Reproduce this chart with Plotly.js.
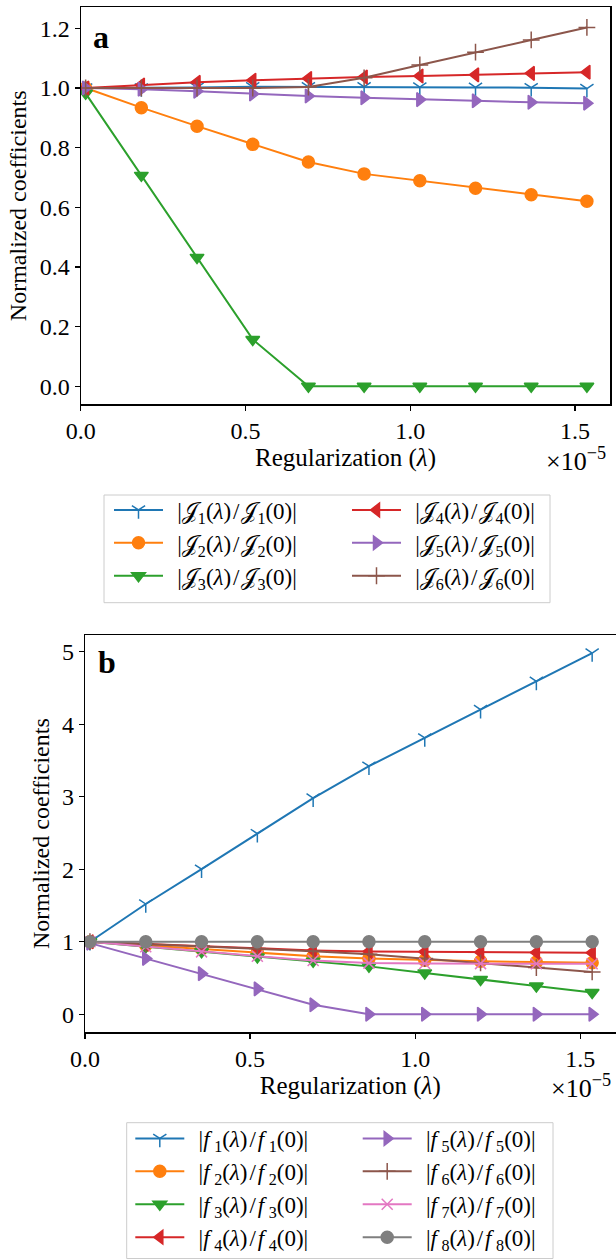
<!DOCTYPE html>
<html>
<head>
<meta charset="utf-8">
<script src="https://cdn.plot.ly/plotly-3.0.1.min.js"></script>
<style>
  html, body { margin: 0; padding: 0; background: #fff; }
  #chart { width: 616px; height: 1260px; }
</style>
</head>
<body>
<div id="chart"></div>
<script>
// Regularization values lambda, in units of 1e-5
const lambdaScaled = [0.015, 0.184, 0.353, 0.522, 0.691, 0.860, 1.029, 1.198, 1.367, 1.536];

// Panel a: |J_k(lambda)/J_k(0)|
const J1 = [1.000, 1.000, 1.002, 1.004, 1.004, 1.004, 1.003, 1.002, 1.001, 0.998];
const J2 = [1.000, 0.934, 0.872, 0.811, 0.752, 0.712, 0.689, 0.664, 0.642, 0.620];
const J3 = [0.982, 0.707, 0.432, 0.157, 0.000, 0.000, 0.000, 0.000, 0.000, 0.000];
const J4 = [1.000, 1.010, 1.019, 1.026, 1.032, 1.037, 1.040, 1.044, 1.049, 1.053];
const J5 = [1.000, 0.996, 0.989, 0.980, 0.973, 0.967, 0.961, 0.957, 0.952, 0.949];
const J6 = [1.000, 1.000, 1.000, 1.000, 1.003, 1.034, 1.077, 1.120, 1.161, 1.203];

// Panel b: |f_k(lambda)/f_k(0)|
const f1 = [1.000, 1.520, 2.000, 2.490, 2.980, 3.420, 3.810, 4.200, 4.590, 4.980];
const f2 = [1.000, 0.950, 0.900, 0.850, 0.800, 0.770, 0.745, 0.730, 0.720, 0.710];
const f3 = [1.000, 0.930, 0.860, 0.790, 0.730, 0.660, 0.570, 0.480, 0.390, 0.300];
const f4 = [1.000, 0.970, 0.940, 0.910, 0.880, 0.865, 0.860, 0.855, 0.850, 0.848];
const f5 = [0.980, 0.770, 0.560, 0.350, 0.130, 0.000, 0.000, 0.000, 0.000, 0.000];
const f6 = [1.000, 0.970, 0.940, 0.905, 0.870, 0.826, 0.767, 0.707, 0.643, 0.583];
const f7 = [1.000, 0.930, 0.860, 0.800, 0.740, 0.705, 0.700, 0.698, 0.695, 0.695];
const f8 = [1.000, 1.000, 1.000, 1.000, 1.000, 1.000, 1.000, 1.000, 1.000, 1.000];

// Tick labels
const xTickVals = [0, 0.5, 1.0, 1.5];
const xTickText = ["0.0", "0.5", "1.0", "1.5"];
const yaTickVals = [0, 0.2, 0.4, 0.6, 0.8, 1.0, 1.2];
const yaTickText = ["0.0", "0.2", "0.4", "0.6", "0.8", "1.0", "1.2"];
const ybTickVals = [0, 1, 2, 3, 4, 5];
const ybTickText = ["0", "1", "2", "3", "4", "5"];

const seriesA = [J1, J2, J3, J4, J5, J6];
const seriesB = [f1, f2, f3, f4, f5, f6, f7, f8];
const TS = "\u2009", HS = "\u200a";
const namesA = [1,2,3,4,5,6].map(k => `${TS}${TS}|𝒥<sub>${k}</sub>(<i>λ</i>)${HS}/${HS}𝒥<sub>${k}</sub>(0)|`);
const namesB = [1,2,3,4,5,6,7,8].map(k => `${TS}${TS}|<i>f</i>${TS}<sub>${k}</sub>(<i>λ</i>)${HS}/${HS}<i>f</i>${TS}<sub>${k}</sub>(0)|`);

const colors = ["#1f77b4", "#ff7f0e", "#2ca02c", "#d62728", "#9467bd", "#8c564b", "#e377c2", "#7f7f7f"];
const symbols = ["y-down", "circle", "triangle-down", "triangle-left", "triangle-right", "cross-thin", "x-thin", "circle"];
const sizes = [11, 12, 12, 12, 12, 12, 11, 12];

// legend columns (matplotlib ncol=2 fills column-wise)
const legendA = ["legend", "legend", "legend", "legend2", "legend2", "legend2"];
const legendB = ["legend3", "legend3", "legend3", "legend3", "legend4", "legend4", "legend4", "legend4"];

const traces = [];
seriesA.forEach((ys, i) => {
  traces.push({
    type: "scatter", mode: "lines+markers",
    x: lambdaScaled, y: ys, xaxis: "x", yaxis: "y",
    name: namesA[i], legend: legendA[i],
    line: { color: colors[i], width: 2 },
    marker: { symbol: symbols[i], size: sizes[i], color: colors[i], line: { color: colors[i], width: 1.5 } }
  });
});
seriesB.forEach((ys, i) => {
  traces.push({
    type: "scatter", mode: "lines+markers",
    x: lambdaScaled, y: ys, xaxis: "x2", yaxis: "y2",
    name: namesB[i], legend: legendB[i],
    line: { color: colors[i], width: 2 },
    marker: { symbol: symbols[i], size: sizes[i], color: colors[i], line: { color: colors[i], width: 1.5 } }
  });
});

const FONT = "'Liberation Serif', 'Times New Roman', serif";
const W = 616, H = 1260;
const px = v => v / W;
const py = v => 1 - v / H;

const axisCommon = {
  showgrid: false, zeroline: false, automargin: false,
  showline: true, mirror: true, linecolor: "#000", linewidth: 1.2,
  ticks: "outside", ticklen: 5, tickwidth: 1.2, tickcolor: "#000",
  tickfont: { family: FONT, size: 24, color: "#000" }
};

function legendAt(xLeft, yTop) {
  return {
    orientation: "v", x: px(xLeft), y: py(yTop), xanchor: "left", yanchor: "top",
    itemwidth: 49, bgcolor: "rgba(0,0,0,0)", borderwidth: 0,
    font: { family: FONT, size: 23, color: "#000" }, traceorder: "normal"
  };
}

const layout = {
  width: W, height: H,
  margin: { l: 0, r: 0, t: 0, b: 0, autoexpand: false },
  paper_bgcolor: "#fff", plot_bgcolor: "#fff",
  font: { family: FONT, size: 24, color: "#000" },
  showlegend: true,
  xaxis: Object.assign({}, axisCommon, {
    domain: [px(80.7), px(610.3)], range: [0, 1.607], anchor: "y",
    tickmode: "array", tickvals: xTickVals, ticktext: xTickText,
    title: { text: "Regularization (<i>λ</i>)", font: { family: FONT, size: 25 }, standoff: 5 }
  }),
  yaxis: Object.assign({}, axisCommon, {
    domain: [py(404.3), py(7.3)], range: [-0.0605, 1.2705], anchor: "x",
    tickmode: "array", tickvals: yaTickVals, ticktext: yaTickText,
    title: { text: "Normalized coefficients", font: { family: FONT, size: 24 }, standoff: 6 }
  }),
  xaxis2: Object.assign({}, axisCommon, {
    domain: [px(85), px(615.6)], range: [0, 1.607], anchor: "y2",
    tickmode: "array", tickvals: xTickVals, ticktext: xTickText,
    title: { text: "Regularization (<i>λ</i>)", font: { family: FONT, size: 25 }, standoff: 5 }
  }),
  yaxis2: Object.assign({}, axisCommon, {
    domain: [py(1032.3), py(635)], range: [-0.249, 5.229], anchor: "x2",
    tickmode: "array", tickvals: ybTickVals, ticktext: ybTickText,
    title: { text: "Normalized coefficients", font: { family: FONT, size: 24 }, standoff: 5 }
  }),
  legend: legendAt(109, 488.5),
  legend2: legendAt(347, 488.5),
  legend3: legendAt(130.3, 1117),
  legend4: legendAt(357.7, 1117),
  shapes: [
    { type: "rect", xref: "paper", yref: "paper", x0: px(104), x1: px(550), y0: py(602.7), y1: py(495),
      line: { color: "#cccccc", width: 1 }, fillcolor: "rgba(255,255,255,0.8)", layer: "below" },
    { type: "rect", xref: "paper", yref: "paper", x0: px(126.7), x1: px(553), y0: py(1258.5), y1: py(1122.7),
      line: { color: "#cccccc", width: 1 }, fillcolor: "rgba(255,255,255,0.8)", layer: "below" }
  ],
  annotations: [
    { text: "<b>a</b>", xref: "paper", yref: "paper", x: px(91), y: py(37), xanchor: "left", yanchor: "middle",
      showarrow: false, font: { family: FONT, size: 32, color: "#000" } },
    { text: "<b>b</b>", xref: "paper", yref: "paper", x: px(96), y: py(662), xanchor: "left", yanchor: "middle",
      showarrow: false, font: { family: FONT, size: 32, color: "#000" } },
    { text: "×10<sup>−5</sup>", xref: "paper", yref: "paper", x: px(544), y: py(459), xanchor: "left", yanchor: "middle",
      showarrow: false, font: { family: FONT, size: 26, color: "#000" } },
    { text: "×10<sup>−5</sup>", xref: "paper", yref: "paper", x: px(549), y: py(1086), xanchor: "left", yanchor: "middle",
      showarrow: false, font: { family: FONT, size: 26, color: "#000" } }
  ]
};

Plotly.newPlot("chart", traces, layout, { staticPlot: true, displayModeBar: false });
</script>
</body>
</html>
